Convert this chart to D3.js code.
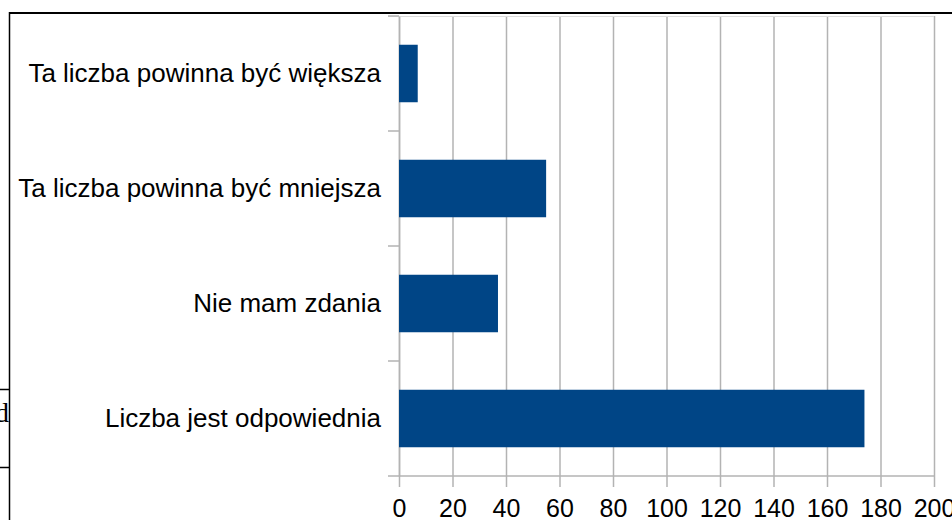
<!DOCTYPE html>
<html>
<head>
<meta charset="utf-8">
<script src="https://cdn.jsdelivr.net/npm/d3@7"></script>
<style>
  body { margin: 0; background: #fff; }
  svg { display: block; }
</style>
</head>
<body>
<svg width="952" height="520"></svg>
<script>
// answers, top to bottom
var categories = [
  "Ta liczba powinna być większa",
  "Ta liczba powinna być mniejsza",
  "Nie mam zdania",
  "Liczba jest odpowiednia"
];
var counts = [7, 55, 37, 174];
var ticks = [0, 20, 40, 60, 80, 100, 120, 140, 160, 180, 200];

var svg = d3.select("svg");
var font = "'Liberation Sans', Arial, sans-serif";

var x = d3.scaleLinear().domain([0, 200]).range([399, 934]);
var y = d3.scaleBand().domain(categories).range([16, 476])
    .paddingInner(0.5).paddingOuter(0.25);

// leftover page borders around the chart image
svg.append("line").attr("x1", 9).attr("x2", 952).attr("y1", 13).attr("y2", 13)
   .attr("stroke", "#000").attr("stroke-width", 2);
svg.append("line").attr("x1", 9.5).attr("x2", 9.5).attr("y1", 12).attr("y2", 520)
   .attr("stroke", "#000").attr("stroke-width", 1.5);
svg.append("line").attr("x1", 0).attr("x2", 9).attr("y1", 389.5).attr("y2", 389.5)
   .attr("stroke", "#000").attr("stroke-width", 1.5);
svg.append("line").attr("x1", 0).attr("x2", 9).attr("y1", 467.5).attr("y2", 467.5)
   .attr("stroke", "#000").attr("stroke-width", 1.5);
svg.append("text").attr("x", 9).attr("y", 422).attr("text-anchor", "end")
   .style("font-family", "'Liberation Serif', serif").style("font-size", "28px")
   .text("d");

// vertical gridlines
var grid = svg.append("g").attr("transform", "translate(0,476)")
  .call(d3.axisBottom(x).tickValues(ticks).tickSize(-460).tickFormat(""));
grid.select(".domain").remove();
grid.selectAll("line").attr("stroke", "#b3b3b3").attr("stroke-width", 1.5);

// top edge of plot
svg.append("line").attr("x1", 388).attr("x2", 934).attr("y1", 16.5).attr("y2", 16.5)
   .attr("stroke", "#dcdcdc").attr("stroke-width", 1);

// x axis
var xAxis = svg.append("g").attr("transform", "translate(0,476)")
  .call(d3.axisBottom(x).tickValues(ticks).tickSize(11).tickPadding(12));
xAxis.select(".domain").remove();
xAxis.selectAll("line").attr("stroke", "#b3b3b3").attr("stroke-width", 1.5);
xAxis.selectAll("text").attr("fill", "#000")
  .style("font-family", font).style("font-size", "25px");
svg.append("line").attr("x1", 388).attr("x2", 934).attr("y1", 476).attr("y2", 476)
   .attr("stroke", "#b3b3b3").attr("stroke-width", 1.5);

// y axis with category separators
var yAxis = svg.append("g").attr("transform", "translate(399,0)")
  .call(d3.axisLeft(y).tickSize(0).tickPadding(18));
yAxis.select(".domain").attr("stroke", "#b3b3b3").attr("stroke-width", 1.5);
yAxis.selectAll("text").attr("fill", "#000")
  .style("font-family", font).style("font-size", "26px");
var seps = [0, 1, 2, 3].map(function(i) { return y.range()[0] + i * y.step(); });
svg.selectAll(".sep").data(seps).enter().append("line")
  .attr("x1", 388).attr("x2", 399)
  .attr("y1", function(d) { return d; }).attr("y2", function(d) { return d; })
  .attr("stroke", "#b3b3b3").attr("stroke-width", 1.5);

// bars
svg.selectAll(".bar").data(counts).enter().append("rect")
  .attr("x", x(0))
  .attr("y", function(d, i) { return y(categories[i]); })
  .attr("width", function(d) { return x(d) - x(0); })
  .attr("height", y.bandwidth())
  .attr("fill", "#004586");
</script>
</body>
</html>
